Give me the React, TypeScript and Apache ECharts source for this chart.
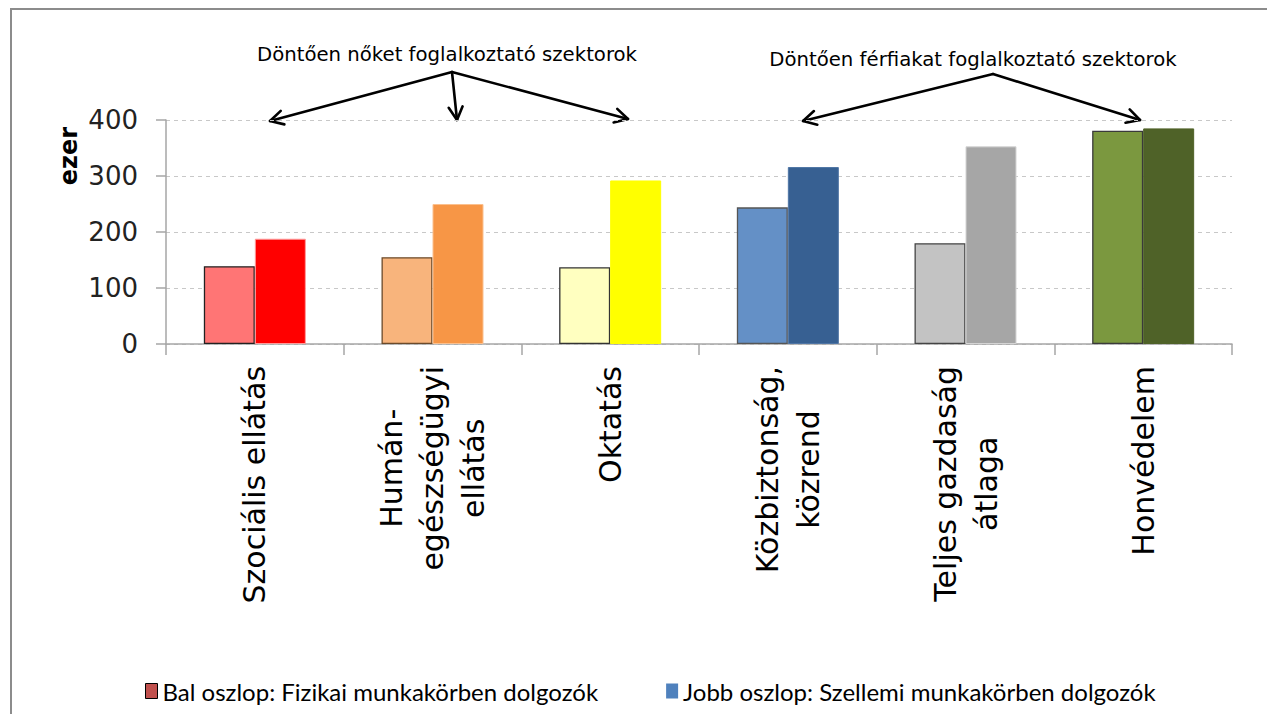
import React, { useEffect, useRef } from "react";
import * as echarts from "echarts";

const categories = [
  "Szociális ellátás",
  "Humán-\negészségügyi\nellátás",
  "Oktatás",
  "Közbiztonság,\nközrend",
  "Teljes gazdaság\nátlaga",
  "Honvédelem",
];
const physicalValues = [139, 155, 137, 244, 180, 381];
const mentalValues = [188, 250, 292, 316, 353, 385];
const physicalColors = ["#FF7575", "#F8B47C", "#FFFFC0", "#6490C6", "#C3C3C3", "#7B983F"];
const physicalBorders = ["#222222", "#6b4a2a", "#333333", "#555555", "#444444", "#3a3a3a"];
const mentalColors = ["#FF0000", "#F79646", "#FFFF00", "#376092", "#A6A6A6", "#4F6228"];
const mentalBorders = ["#FF9A9A", "#FBC08E", "#FFFF00", "#4F75A5", "#D4D4D4", "#4F6228"];
const yTicks = { min: 0, max: 400, interval: 100 };
const seriesNames = [
  "Bal oszlop: Fizikai munkakörben dolgozók",
  "Jobb oszlop: Szellemi munkakörben dolgozók",
];
const legendColors = ["#C0504D", "#4F81BD"];
const yAxisName = "ezer";
const noteWomen = "Döntően nőket foglalkoztató szektorok";
const noteMen = "Döntően férfiakat foglalkoztató szektorok";

function arrow(ax: number, ay: number, tx: number, ty: number) {
  const dx = tx - ax;
  const dy = ty - ay;
  const len = Math.sqrt(dx * dx + dy * dy);
  const ux = dx / len;
  const uy = dy / len;
  const L = 13;
  const W = 7;
  const bx = tx - ux * L;
  const by = ty - uy * L;
  const style = { stroke: "#000", lineWidth: 2.6, fill: null, lineCap: "round", lineJoin: "round" };
  return [
    { type: "line", shape: { x1: ax, y1: ay, x2: tx, y2: ty }, style },
    {
      type: "polyline",
      shape: {
        points: [
          [bx - uy * W, by + ux * W],
          [tx, ty],
          [bx + uy * W, by - ux * W],
        ],
      },
      style,
    },
  ];
}

export default function App() {
  const ref = useRef<HTMLDivElement>(null);
  useEffect(() => {
    if (!ref.current) return;
    const chart = echarts.init(ref.current, null, { renderer: "svg" });
    const font = "DejaVu Sans";
    chart.setOption({
      animation: false,
      backgroundColor: "#ffffff",
      grid: { left: 166, right: 35, top: 120, bottom: 370, containLabel: false },
      legend: {
        left: 140,
        top: 674,
        icon: "rect",
        itemWidth: 12,
        itemHeight: 15,
        itemGap: 68,
        textStyle: { fontFamily: "Lato", fontSize: 24, color: "#000" },
        data: [
          { name: seriesNames[0], itemStyle: { color: legendColors[0], borderColor: "#000", borderWidth: 1 } },
          { name: seriesNames[1], itemStyle: { color: legendColors[1], borderWidth: 0 } },
        ],
      },
      xAxis: {
        type: "category",
        data: categories,
        boundaryGap: true,
        axisLine: { lineStyle: { color: "#A6A6A6", width: 1.5 } },
        axisTick: { show: true, length: 11, lineStyle: { color: "#A6A6A6", width: 1.5 } },
        axisLabel: {
          rotate: 90,
          margin: 22,
          interval: 0,
          formatter: (v: string) => v.split("\n").map((l) => `{c|${l}}`).join("\n"),
          rich: {
            c: { fontFamily: font, fontSize: 30, lineHeight: 41, color: "#000", align: "center" },
          },
        },
      },
      yAxis: {
        type: "value",
        min: yTicks.min,
        max: yTicks.max,
        interval: yTicks.interval,
        axisLine: { show: true, lineStyle: { color: "#A6A6A6", width: 1.5 } },
        axisTick: { show: true, length: 10, lineStyle: { color: "#A6A6A6", width: 1.5 } },
        axisLabel: { fontFamily: font, fontSize: 26, color: "#222", margin: 28 },
        splitLine: { lineStyle: { color: "#C8C8C8", type: [4, 4], width: 1.2 } },
      },
      series: [
        {
          name: seriesNames[0],
          type: "bar",
          barWidth: 51,
          barGap: "0%",
          itemStyle: { color: legendColors[0] },
          data: physicalValues.map((v, i) => ({
            value: v,
            itemStyle: { color: physicalColors[i], borderColor: physicalBorders[i], borderWidth: 1.3 },
          })),
        },
        {
          name: seriesNames[1],
          type: "bar",
          barWidth: 51,
          barGap: "0%",
          itemStyle: { color: legendColors[1] },
          data: mentalValues.map((v, i) => ({
            value: v,
            itemStyle: { color: mentalColors[i], borderColor: mentalBorders[i], borderWidth: 1 },
          })),
        },
      ],
      graphic: [
        {
          type: "rect",
          shape: { x: 11, y: 9, width: 1400, height: 900 },
          style: { fill: null, stroke: "#8C8C8C", lineWidth: 2 },
          silent: true,
        },
        {
          type: "text",
          x: 69,
          y: 156,
          rotation: Math.PI / 2,
          style: {
            text: yAxisName,
            fontFamily: font,
            fontWeight: "bold",
            fontSize: 24,
            fill: "#000",
            textAlign: "center",
            textVerticalAlign: "middle",
          },
        },
        {
          type: "text",
          x: 447,
          y: 54,
          scaleX: 0.985,
          style: {
            text: noteWomen,
            fontFamily: font,
            fontSize: 20,
            fill: "#000",
            textAlign: "center",
            textVerticalAlign: "middle",
          },
        },
        {
          type: "text",
          x: 973,
          y: 59,
          scaleX: 0.985,
          style: {
            text: noteMen,
            fontFamily: font,
            fontSize: 20,
            fill: "#000",
            textAlign: "center",
            textVerticalAlign: "middle",
          },
        },
        ...arrow(452, 72, 270, 121),
        ...arrow(452, 72, 457, 120),
        ...arrow(452, 72, 628, 119),
        ...arrow(993, 74, 803, 121),
        ...arrow(993, 74, 1140, 120),
      ],
    });
    return () => chart.dispose();
  }, []);
  return (
    <div
      ref={ref}
      style={{ position: "absolute", left: 0, top: 0, width: 1267, height: 714 }}
    />
  );
}
